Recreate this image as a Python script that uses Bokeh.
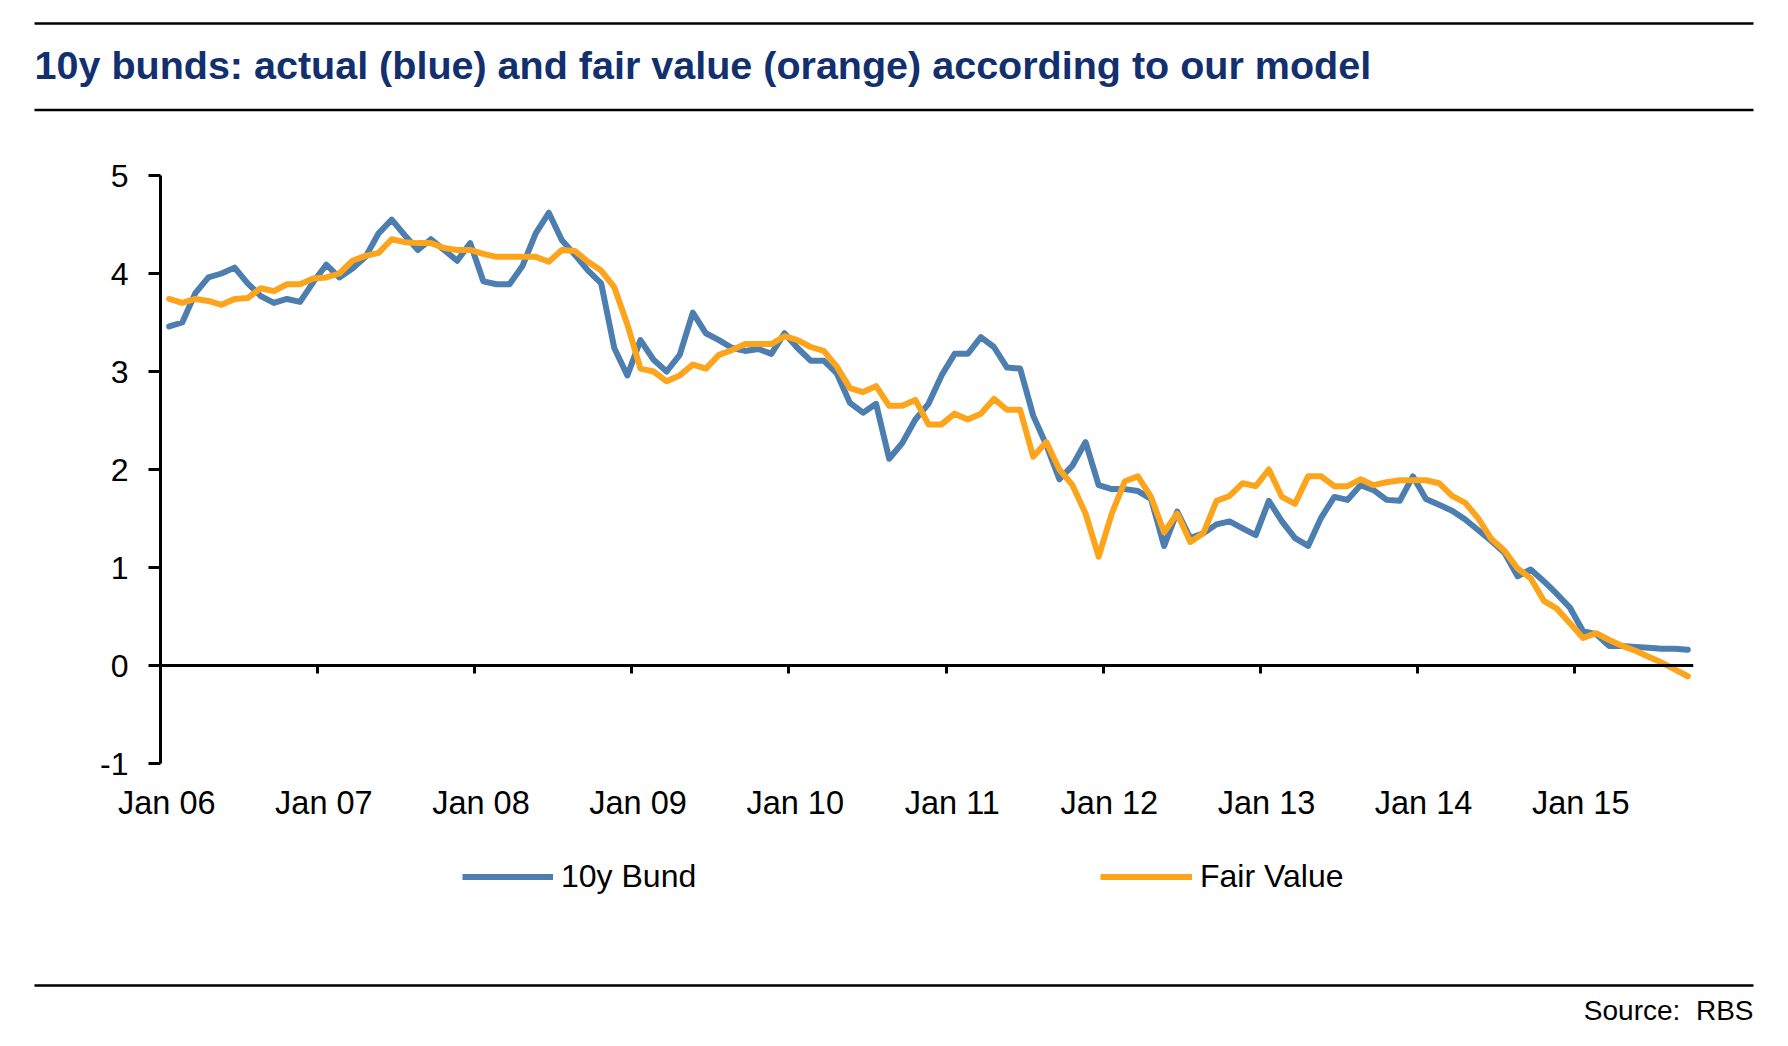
import pandas as pd
from bokeh.plotting import figure
from bokeh.models import Range1d, LinearAxis, FixedTicker, Legend, LegendItem, Label
from bokeh.layouts import column
from bokeh.embed import file_html
from bokeh.resources import INLINE

# ---------------- data ----------------
TITLE = "10y bunds: actual (blue) and fair value (orange) according to our model"
SOURCE = "Source:  RBS"
SERIES_NAMES = ["10y Bund", "Fair Value"]
START = "2006-01-01"
TICK_YEARS = [0, 1, 2, 3, 4, 5, 6, 7, 8, 9]
TICK_LABELS = ["Jan 06", "Jan 07", "Jan 08", "Jan 09", "Jan 10",
               "Jan 11", "Jan 12", "Jan 13", "Jan 14", "Jan 15"]
Y_TICKS = [-1, 0, 1, 2, 3, 4, 5]
Y_TICK_LABELS = ["-1", "0", "1", "2", "3", "4", "5"]

bund = [3.46, 3.50, 3.80, 3.96, 4.00, 4.06, 3.90, 3.77, 3.70, 3.74, 3.71, 3.91,
        4.09, 3.96, 4.05, 4.17, 4.41, 4.55, 4.39, 4.24, 4.35, 4.24, 4.13, 4.31,
        3.92, 3.89, 3.89, 4.08, 4.41, 4.62, 4.34, 4.19, 4.03, 3.90, 3.24, 2.96,
        3.32, 3.12, 3.00, 3.17, 3.60, 3.39, 3.32, 3.24, 3.21, 3.23, 3.18, 3.39,
        3.24, 3.11, 3.11, 2.98, 2.68, 2.58, 2.67, 2.11, 2.27, 2.51, 2.67, 2.96,
        3.18, 3.18, 3.35, 3.25, 3.04, 3.03, 2.55, 2.25, 1.90, 2.04, 2.28, 1.84,
        1.80, 1.80, 1.78, 1.70, 1.22, 1.57, 1.30, 1.35, 1.44, 1.47, 1.40, 1.33,
        1.68, 1.47, 1.30, 1.22, 1.51, 1.72, 1.69, 1.84, 1.79, 1.69, 1.68, 1.93,
        1.70, 1.64, 1.58, 1.49, 1.38, 1.27, 1.15, 0.91, 0.98, 0.86, 0.73, 0.59,
        0.35, 0.32, 0.20, 0.20, 0.19, 0.18, 0.17, 0.17, 0.16]

fair = [3.74, 3.70, 3.74, 3.72, 3.68, 3.74, 3.75, 3.85, 3.82, 3.89, 3.89, 3.95,
        3.96, 4.00, 4.13, 4.18, 4.21, 4.35, 4.32, 4.31, 4.31, 4.26, 4.24, 4.24,
        4.20, 4.17, 4.17, 4.17, 4.17, 4.12, 4.24, 4.23, 4.12, 4.03, 3.86, 3.48,
        3.03, 3.00, 2.90, 2.96, 3.07, 3.03, 3.17, 3.22, 3.28, 3.28, 3.28, 3.36,
        3.32, 3.25, 3.21, 3.05, 2.83, 2.79, 2.85, 2.65, 2.65, 2.71, 2.46, 2.46,
        2.57, 2.51, 2.57, 2.72, 2.61, 2.61, 2.13, 2.28, 2.00, 1.84, 1.55, 1.11,
        1.55, 1.88, 1.93, 1.72, 1.36, 1.55, 1.26, 1.35, 1.68, 1.73, 1.86, 1.83,
        2.00, 1.72, 1.65, 1.93, 1.93, 1.83, 1.83, 1.90, 1.84, 1.87, 1.89, 1.89,
        1.89, 1.86, 1.73, 1.66, 1.50, 1.29, 1.17, 0.99, 0.89, 0.66, 0.58, 0.43,
        0.28, 0.33, 0.26, 0.20, 0.15, 0.09, 0.03, -0.04, -0.11]

# ---------------- styling ----------------
FONT = "Liberation Sans"
BLUE = "#4D7EB0"
ORANGE = "#FBA41C"
NAVY = "#13306E"
LW = 6
W = 1780
X_END = 9.758
MONTH_POS = 0.66      # position of a monthly point within its month
LABEL_SHIFT = 0.04    # tick labels sit slightly right of the ticks

dates = pd.date_range(START, periods=len(bund), freq="MS")
x = [(d.year - 2006) + (d.month - 1 + MONTH_POS) / 12.0 for d in dates]


def no_align(fig):
    try:
        fig.frame_align = False
    except Exception:
        pass


# ---------------- header ----------------
H_HEAD = 116
head = figure(width=W, height=H_HEAD, x_range=Range1d(0, W), y_range=Range1d(H_HEAD, 0),
              output_backend="svg", toolbar_location=None, min_border=0,
              outline_line_color=None, x_axis_type=None, y_axis_type=None)
no_align(head)
head.grid.visible = False
head.segment(x0=[34, 34], x1=[1753, 1753], y0=[23, 109.5], y1=[23, 109.5],
             line_color="black", line_width=2.5)
head.add_layout(Label(x=34, y=64, text=TITLE, text_font=FONT, text_font_style="bold",
                      text_font_size="39.5px", text_color=NAVY, text_baseline="middle"))

# ---------------- main chart ----------------
H_MAIN = 717
p = figure(width=W, height=H_MAIN, x_range=Range1d(0, X_END), y_range=Range1d(-1, 5),
           output_backend="svg", toolbar_location=None,
           min_border_left=160, min_border_right=W - 1693, min_border_top=59,
           min_border_bottom=70,
           outline_line_color=None, x_axis_type=None, y_axis_type=None)
no_align(p)
p.grid.visible = False
p.extra_x_ranges = {"lab": Range1d(-LABEL_SHIFT, X_END - LABEL_SHIFT)}

yaxis = LinearAxis(ticker=FixedTicker(ticks=Y_TICKS),
                   major_label_overrides={t: l for t, l in zip(Y_TICKS, Y_TICK_LABELS)})
yaxis.axis_line_width = 3
yaxis.major_tick_line_width = 3
yaxis.major_tick_out = 12
yaxis.major_tick_in = 0
yaxis.minor_tick_line_color = None
yaxis.major_label_standoff = 20
yaxis.major_label_text_font = FONT
yaxis.major_label_text_font_size = "32px"
yaxis.major_label_text_color = "black"
p.add_layout(yaxis, "left")

xlab = LinearAxis(x_range_name="lab", ticker=FixedTicker(ticks=TICK_YEARS),
                  major_label_overrides={t: l for t, l in zip(TICK_YEARS, TICK_LABELS)})
xlab.axis_line_color = None
xlab.major_tick_line_color = None
xlab.minor_tick_line_color = None
xlab.major_tick_out = 0
xlab.major_tick_in = 0
xlab.major_label_standoff = 21
xlab.major_label_text_font = FONT
xlab.major_label_text_font_size = "32.5px"
xlab.major_label_text_color = "black"
p.add_layout(xlab, "below")

xzero = LinearAxis(fixed_location=0, ticker=FixedTicker(ticks=TICK_YEARS),
                   major_label_overrides={t: "" for t in TICK_YEARS})
xzero.axis_line_width = 3
xzero.major_tick_line_width = 3
xzero.major_tick_out = 8
xzero.major_tick_in = 0
xzero.minor_tick_line_color = None
xzero.major_label_text_font_size = "1px"
xzero.major_label_standoff = 0
p.add_layout(xzero, "below")

p.line(x, bund, line_color=BLUE, line_width=LW, line_join="round", line_cap="round")
p.line(x, fair, line_color=ORANGE, line_width=LW, line_join="round", line_cap="round")

# ---------------- footer (legend, rule, source) ----------------
H_FOOT = 207
FOOT_TOP = H_HEAD + H_MAIN
foot = figure(width=W, height=H_FOOT, x_range=Range1d(0, W),
              y_range=Range1d(FOOT_TOP + H_FOOT, FOOT_TOP),
              output_backend="svg", toolbar_location=None, min_border=0,
              outline_line_color=None, x_axis_type=None, y_axis_type=None)
no_align(foot)
foot.grid.visible = False

# legend keys: invisible proxies carrying the same line styles as the two series
NAN = float("nan")
k1 = foot.line(x=[NAN], y=[NAN], line_color=BLUE, line_width=LW)
k2 = foot.line(x=[NAN], y=[NAN], line_color=ORANGE, line_width=LW)


def make_legend(label, rend, loc, gw):
    return Legend(items=[LegendItem(label=label, renderers=[rend])], location=loc,
                  orientation="horizontal", glyph_width=gw, glyph_height=37,
                  label_height=37, label_standoff=8, padding=0, margin=0,
                  border_line_color=None, background_fill_alpha=0,
                  label_text_font=FONT, label_text_font_size="32px",
                  label_text_color="black")


LEG_Y = FOOT_TOP + H_FOOT - 894.5
foot.add_layout(make_legend(SERIES_NAMES[0], k1, (462, LEG_Y), 91))
foot.add_layout(make_legend(SERIES_NAMES[1], k2, (1100, LEG_Y), 92))

foot.segment(x0=[34], x1=[1753], y0=[985], y1=[985], line_color="black", line_width=2.5)
foot.add_layout(Label(x=1753, y=1010, text=SOURCE.replace("  ", "\u00a0 "), text_font=FONT,
                      text_font_size="28px", text_color="black", text_align="right",
                      text_baseline="middle"))

layout = column(head, p, foot, spacing=0)
open("out.html", "w").write(file_html(layout, INLINE))
